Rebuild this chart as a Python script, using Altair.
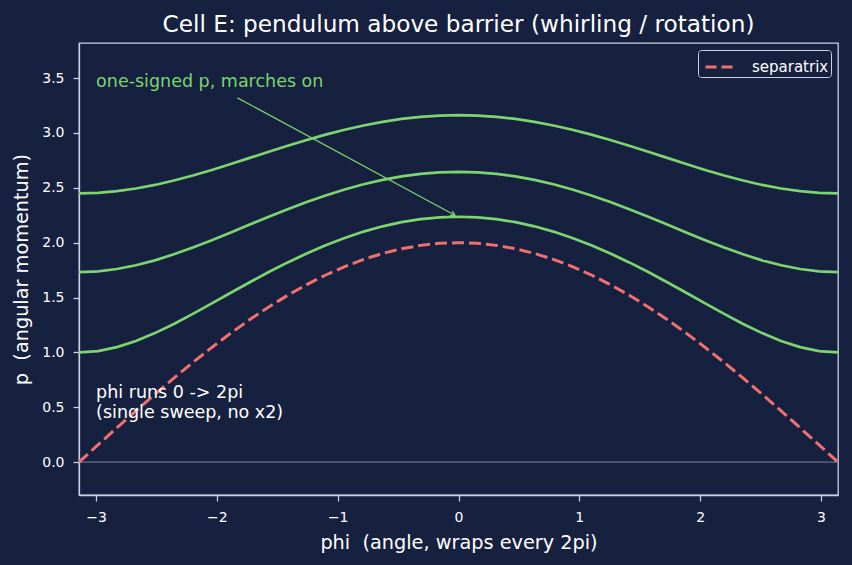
import altair as alt
import pandas as pd

phi = [-3.1416, -2.9845, -2.8274, -2.6704, -2.5133, -2.3562, -2.1991, -2.0420, -1.8850, -1.7279,
       -1.5708, -1.4137, -1.2566, -1.0996, -0.9425, -0.7854, -0.6283, -0.4712, -0.3142, -0.1571,
       0.0,
       0.1571, 0.3142, 0.4712, 0.6283, 0.7854, 0.9425, 1.0996, 1.2566, 1.4137, 1.5708,
       1.7279, 1.8850, 2.0420, 2.1991, 2.3562, 2.5133, 2.6704, 2.8274, 2.9845, 3.1416]

p_low = [1.0000, 1.0122, 1.0478, 1.1036, 1.1756, 1.2593, 1.3507, 1.4464, 1.5434, 1.6393,
         1.7321, 1.8201, 1.9021, 1.9769, 2.0434, 2.1010, 2.1490, 2.1868, 2.2141, 2.2306,
         2.2361,
         2.2306, 2.2141, 2.1868, 2.1490, 2.1010, 2.0434, 1.9769, 1.9021, 1.8201, 1.7321,
         1.6393, 1.5434, 1.4464, 1.3507, 1.2593, 1.1756, 1.1036, 1.0478, 1.0122, 1.0000]

p_mid = [1.7321, 1.7391, 1.7601, 1.7939, 1.8390, 1.8936, 1.9556, 2.0229, 2.0933, 2.1650,
         2.2361, 2.3050, 2.3702, 2.4306, 2.4851, 2.5326, 2.5726, 2.6042, 2.6272, 2.6411,
         2.6458,
         2.6411, 2.6272, 2.6042, 2.5726, 2.5326, 2.4851, 2.4306, 2.3702, 2.3050, 2.2361,
         2.1650, 2.0933, 2.0229, 1.9556, 1.8936, 1.8390, 1.7939, 1.7601, 1.7391, 1.7321]

p_high = [2.4495, 2.4545, 2.4694, 2.4936, 2.5262, 2.5663, 2.6124, 2.6631, 2.7170, 2.7726,
          2.8284, 2.8832, 2.9356, 2.9846, 3.0291, 3.0683, 3.1013, 3.1276, 3.1468, 3.1584,
          3.1623,
          3.1584, 3.1468, 3.1276, 3.1013, 3.0683, 3.0291, 2.9846, 2.9356, 2.8832, 2.8284,
          2.7726, 2.7170, 2.6631, 2.6124, 2.5663, 2.5262, 2.4936, 2.4694, 2.4545, 2.4495]

p_sep = [0.0000, 0.1569, 0.3129, 0.4669, 0.6180, 0.7654, 0.9080, 1.0450, 1.1756, 1.2989,
         1.4142, 1.5208, 1.6180, 1.7053, 1.7820, 1.8478, 1.9021, 1.9447, 1.9754, 1.9938,
         2.0000,
         1.9938, 1.9754, 1.9447, 1.9021, 1.8478, 1.7820, 1.7053, 1.6180, 1.5208, 1.4142,
         1.2989, 1.1756, 1.0450, 0.9080, 0.7654, 0.6180, 0.4669, 0.3129, 0.1569, 0.0000]

x_ticks = [-3, -2, -1, 0, 1, 2, 3]
y_ticks = [0.0, 0.5, 1.0, 1.5, 2.0, 2.5, 3.0, 3.5]

note_green = "one-signed p, marches on"
note_green_xy = [-3.0, 3.46]
arrow_from = [-1.83, 3.32]
arrow_to = [-0.03, 2.25]
note_white = ["phi runs 0 -> 2pi", "(single sweep, no x2)"]
note_white_xy = [-3.0, 0.586]

BG = "#16203f"
GREEN = "#7ed46f"
RED = "#f07070"
FG = "#c9d1e6"

rows = []
for name, vals in [("E1", p_low), ("E2", p_mid), ("E3", p_high)]:
    for x, y in zip(phi, vals):
        rows.append({"phi": x, "p": y, "curve": name})
curves = pd.DataFrame(rows)
sep = pd.DataFrame({"phi": phi, "p": p_sep, "name": ["separatrix"] * len(phi)})

xscale = alt.Scale(domain=[-3.1416, 3.1416], nice=False, zero=False)
yscale = alt.Scale(domain=[-0.3, 3.82], nice=False, zero=False)

xax = alt.Axis(values=x_ticks, title="phi\u00a0 (angle, wraps every 2pi)", format="d",
               labelExpr="replace(datum.label, '-', '\u2212')")
yax = alt.Axis(values=y_ticks, title="p\u00a0 (angular momentum)", format=".1f")

zero = alt.Chart(pd.DataFrame({"y": [0.0]})).mark_rule(color="#80869e", strokeWidth=1).encode(
    y=alt.Y("y:Q", scale=yscale, axis=yax)
)

green_lines = alt.Chart(curves).mark_line(color=GREEN, strokeWidth=2.7, clip=True).encode(
    x=alt.X("phi:Q", scale=xscale, axis=xax),
    y=alt.Y("p:Q", scale=yscale, axis=yax),
    detail="curve:N",
    order="phi:Q",
)

sep_line = alt.Chart(sep).mark_line(strokeWidth=3, strokeDash=[12, 5], clip=True).encode(
    x=alt.X("phi:Q", scale=xscale, axis=xax),
    y=alt.Y("p:Q", scale=yscale, axis=yax),
    color=alt.Color("name:N", scale=alt.Scale(domain=["separatrix"], range=[RED]),
                    legend=alt.Legend(title=None, orient="top-right", offset=7,
                                      symbolType="stroke", symbolDash=[11, 5],
                                      symbolStrokeWidth=3, symbolSize=729,
                                      symbolOffset=4,
                                      labelColor="white", labelFontSize=15,
                                      labelFont="DejaVu Sans", labelOffset=18,
                                      strokeColor=FG, fillColor=BG, cornerRadius=3,
                                      padding=2)),
    order="phi:Q",
)

arrow_df = pd.DataFrame({"x": [arrow_from[0]], "y": [arrow_from[1]],
                         "x2": [arrow_to[0]], "y2": [arrow_to[1]]})
arrow_line = alt.Chart(arrow_df).mark_rule(color=GREEN, strokeWidth=1.2).encode(
    x=alt.X("x:Q", scale=xscale), y=alt.Y("y:Q", scale=yscale), x2="x2:Q", y2="y2:Q"
)
arrow_head = alt.Chart(arrow_df).mark_point(
    shape="M -1 -0.6 L 0 0 L -1 0.6", filled=False, color=GREEN, strokeWidth=1.3,
    size=70, angle=28, opacity=1
).encode(x=alt.X("x2:Q", scale=xscale), y=alt.Y("y2:Q", scale=yscale))

green_text = alt.Chart(pd.DataFrame({"x": [note_green_xy[0]], "y": [note_green_xy[1]], "t": [note_green]})).mark_text(
    align="left", baseline="middle", color=GREEN, fontSize=17.5, font="DejaVu Sans"
).encode(x=alt.X("x:Q", scale=xscale), y=alt.Y("y:Q", scale=yscale), text="t:N")

white_text = alt.Chart(pd.DataFrame({"x": [note_white_xy[0]], "y": [note_white_xy[1]]})).mark_text(
    align="left", baseline="alphabetic", color="white", fontSize=17.5, font="DejaVu Sans",
    text=note_white, lineHeight=20.6
).encode(x=alt.X("x:Q", scale=xscale), y=alt.Y("y:Q", scale=yscale))

chart = alt.layer(zero, green_lines, sep_line, arrow_line, arrow_head, green_text, white_text).properties(
    width=759, height=452,
    title=alt.Title("Cell E: pendulum above barrier (whirling / rotation)", color="white",
                    fontSize=23.2, font="DejaVu Sans", fontWeight="normal", offset=6),
    background=BG,
    padding={"left": 79, "top": 43, "right": 14, "bottom": 70},
    autosize=alt.AutoSizeParams(type="none"),
).configure_view(stroke=FG, strokeWidth=1.3, fill=BG).configure_axis(
    domainColor=FG, tickColor=FG, labelColor="white", titleColor="white",
    grid=False, labelFont="DejaVu Sans", titleFont="DejaVu Sans",
    labelFontSize=14, titleFontSize=19.3, titleFontWeight="normal",
    tickSize=6, domainWidth=1.3, tickWidth=1.3, labelPadding=9,
).configure_axisX(titlePadding=9).configure_axisY(titlePadding=10)

chart.save("out.html", embed_options={"renderer": "svg", "actions": False})
